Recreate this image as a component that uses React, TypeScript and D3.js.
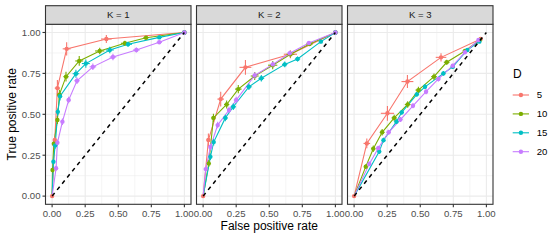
import React from "react";
import * as d3 from "d3";

// ---- data ----
const panels = ["K = 1", "K = 2", "K = 3"];
const seriesD = ["5", "10", "15", "20"];
const colors = ["#F8766D", "#7CAE00", "#00BFC4", "#C77CFF"];
const ticks = [0, 0.25, 0.5, 0.75, 1];
const tickLabels = ["0.00", "0.25", "0.50", "0.75", "1.00"];
const lineAnchor: [number, number] = [0, 0];
const diagonal: [number, number][] = [[0, 0], [1, 1]];

// each point: [fpr, tpr, fprErr, tprErr]
const k1d5 = [[0, 0, 0, 0], [0.02, 0.343, 0.01, 0.02], [0.04, 0.66, 0.02, 0.05], [0.11, 0.9, 0.03, 0.04], [0.41, 0.96, 0.04, 0.025], [1, 1, 0, 0]];
const k1d10 = [[0.003, 0.16, 0.005, 0.015], [0.013, 0.32, 0.008, 0.02], [0.04, 0.465, 0.01, 0.025], [0.055, 0.62, 0.015, 0.03], [0.105, 0.73, 0.02, 0.03], [0.205, 0.826, 0.03, 0.03], [0.36, 0.887, 0.035, 0.02], [0.55, 0.934, 0.03, 0.015], [0.71, 0.968, 0.02, 0.01], [1, 1, 0, 0]];
const k1d15 = [[0.01, 0.21, 0.005, 0.015], [0.023, 0.31, 0.008, 0.02], [0.043, 0.515, 0.01, 0.02], [0.06, 0.61, 0.012, 0.025], [0.18, 0.748, 0.025, 0.025], [0.255, 0.81, 0.03, 0.025], [0.436, 0.893, 0.03, 0.02], [0.574, 0.928, 0.03, 0.015], [0.81, 0.97, 0.02, 0.01], [1, 1, 0, 0]];
const k1d20 = [[0.03, 0.17, 0.008, 0.015], [0.04, 0.326, 0.01, 0.02], [0.078, 0.455, 0.012, 0.02], [0.125, 0.587, 0.015, 0.02], [0.188, 0.705, 0.02, 0.02], [0.308, 0.79, 0.025, 0.02], [0.46, 0.85, 0.025, 0.02], [0.637, 0.893, 0.025, 0.015], [0.81, 0.94, 0.02, 0.01], [1, 1, 0, 0]];

const k2d5 = [[0, 0, 0, 0], [0.04, 0.343, 0.015, 0.04], [0.133, 0.593, 0.025, 0.045], [0.32, 0.787, 0.045, 0.045], [0.66, 0.867, 0.05, 0.025], [1, 1, 0, 0]];
const k2d10 = [[0.043, 0.2, 0.01, 0.02], [0.078, 0.478, 0.015, 0.025], [0.178, 0.56, 0.02, 0.025], [0.266, 0.654, 0.025, 0.025], [0.39, 0.734, 0.03, 0.025], [0.526, 0.8, 0.035, 0.025], [0.66, 0.867, 0.03, 0.02], [0.805, 0.93, 0.025, 0.012], [1, 1, 0, 0]];
const k2d15 = [[0.055, 0.24, 0.01, 0.02], [0.08, 0.33, 0.012, 0.02], [0.168, 0.478, 0.018, 0.02], [0.228, 0.546, 0.02, 0.02], [0.346, 0.668, 0.022, 0.02], [0.44, 0.72, 0.022, 0.02], [0.617, 0.805, 0.02, 0.018], [0.714, 0.838, 0.02, 0.015], [0.89, 0.944, 0.015, 0.01], [1, 1, 0, 0]];
const k2d20 = [[0.02, 0.165, 0.008, 0.015], [0.055, 0.3, 0.01, 0.02], [0.11, 0.434, 0.012, 0.02], [0.196, 0.526, 0.015, 0.02], [0.25, 0.587, 0.018, 0.02], [0.39, 0.737, 0.02, 0.02], [0.527, 0.805, 0.022, 0.018], [0.655, 0.873, 0.02, 0.015], [0.8, 0.936, 0.018, 0.01], [1, 1, 0, 0]];

const k3d5 = [[0, 0, 0, 0], [0.096, 0.322, 0.025, 0.03], [0.252, 0.506, 0.05, 0.045], [0.403, 0.7, 0.045, 0.04], [0.657, 0.848, 0.04, 0.025], [0.957, 0.96, 0.015, 0.012]];
const k3d10 = [[0.088, 0.18, 0.01, 0.015], [0.145, 0.29, 0.015, 0.02], [0.212, 0.39, 0.018, 0.02], [0.303, 0.478, 0.02, 0.02], [0.405, 0.56, 0.022, 0.02], [0.486, 0.648, 0.022, 0.02], [0.604, 0.73, 0.022, 0.02], [0.7, 0.818, 0.022, 0.015], [0.838, 0.887, 0.018, 0.012], [0.95, 0.954, 0.01, 0.008]];
const k3d15 = [[0.19, 0.272, 0.01, 0.015], [0.222, 0.342, 0.012, 0.015], [0.32, 0.455, 0.015, 0.015], [0.36, 0.512, 0.015, 0.015], [0.474, 0.622, 0.015, 0.015], [0.536, 0.668, 0.015, 0.015], [0.675, 0.75, 0.015, 0.015], [0.746, 0.79, 0.015, 0.012], [0.856, 0.893, 0.012, 0.01], [0.947, 0.944, 0.008, 0.008]];
const k3d20 = [[0.115, 0.197, 0.01, 0.015], [0.182, 0.293, 0.012, 0.015], [0.261, 0.39, 0.015, 0.015], [0.35, 0.468, 0.015, 0.015], [0.445, 0.552, 0.015, 0.015], [0.544, 0.638, 0.015, 0.015], [0.637, 0.716, 0.015, 0.015], [0.746, 0.797, 0.015, 0.012], [0.838, 0.879, 0.012, 0.01], [0.94, 0.954, 0.008, 0.008]];

const panelData = [
  [k1d5, k1d10, k1d15, k1d20],
  [k2d5, k2d10, k2d15, k2d20],
  [k3d5, k3d10, k3d15, k3d20],
];

// ---- layout ----
const W = 560, H = 240;
const panelLeft0 = 45.5, panelW = 145.5, panelStep = 151;
const panelTop = 24.3, panelBottom = 204.3, stripTop = 5.7;
const font = "'Liberation Sans', Arial, Helvetica, sans-serif";

export default function App() {
  const y = d3.scaleLinear().domain([-0.05, 1.05]).range([panelBottom, panelTop]);
  const minor = [0.125, 0.375, 0.625, 0.875];
  return (
    <svg width={W} height={H} style={{ position: "absolute", left: 0, top: 0, background: "#fff" }} fontFamily={font}>
      <rect x={0} y={0} width={W} height={H} fill="#fff" />
      {panels.map((label, pi) => {
        const x0 = panelLeft0 + pi * panelStep;
        const x = d3.scaleLinear().domain([-0.05, 1.05]).range([x0, x0 + panelW]);
        const line = d3.line<number[]>().x((d) => x(d[0])).y((d) => y(d[1]));
        const series = panelData[pi];
        return (
          <g key={label}>
            <rect x={x0} y={panelTop} width={panelW} height={panelBottom - panelTop} fill="#fff" />
            {minor.map((t) => (
              <g key={"m" + t}>
                <line x1={x(t)} x2={x(t)} y1={panelTop} y2={panelBottom} stroke="#EBEBEB" strokeWidth={0.55} />
                <line x1={x0} x2={x0 + panelW} y1={y(t)} y2={y(t)} stroke="#EBEBEB" strokeWidth={0.55} />
              </g>
            ))}
            {ticks.map((t) => (
              <g key={"M" + t}>
                <line x1={x(t)} x2={x(t)} y1={panelTop} y2={panelBottom} stroke="#EBEBEB" strokeWidth={1.1} />
                <line x1={x0} x2={x0 + panelW} y1={y(t)} y2={y(t)} stroke="#EBEBEB" strokeWidth={1.1} />
              </g>
            ))}
            {series.map((pts, si) => (
              <path key={"l" + si} d={line(pts[0][0] === 0 && pts[0][1] === 0 ? pts : [lineAnchor, ...pts]) || ""} fill="none" stroke={colors[si]} strokeWidth={1.1} />
            ))}
            {series.map((pts, si) => (
              <g key={"e" + si} stroke={colors[si]} strokeWidth={1.1}>
                {pts.map((p, j) => (
                  <g key={j}>
                    <line x1={x(p[0])} x2={x(p[0])} y1={y(p[1] - p[3])} y2={y(p[1] + p[3])} />
                    <line x1={x(p[0] - p[2])} x2={x(p[0] + p[2])} y1={y(p[1])} y2={y(p[1])} />
                  </g>
                ))}
              </g>
            ))}
            {series.map((pts, si) => (
              <g key={"p" + si} fill={colors[si]}>
                {pts.map((p, j) => (
                  <circle key={j} cx={x(p[0])} cy={y(p[1])} r={2.2} />
                ))}
              </g>
            ))}
            <path d={line(diagonal) || ""} stroke="#000" strokeWidth={1.5} strokeDasharray="4,4" fill="none" />
            <rect x={x0} y={panelTop} width={panelW} height={panelBottom - panelTop} fill="none" stroke="#333333" strokeWidth={1.1} />
            <rect x={x0} y={stripTop} width={panelW} height={panelTop - stripTop} fill="#D9D9D9" stroke="#333333" strokeWidth={1.1} />
            <text x={x0 + panelW / 2} y={(stripTop + panelTop) / 2} dy="0.35em" textAnchor="middle" fontSize={9.6} fill="#1A1A1A">{label}</text>
            {ticks.map((t, i) => (
              <g key={"xt" + t}>
                <line x1={x(t)} x2={x(t)} y1={panelBottom} y2={panelBottom + 3} stroke="#333333" strokeWidth={1.1} />
                <text x={x(t)} y={217} textAnchor="middle" fontSize={9.6} fill="#4D4D4D">{tickLabels[i]}</text>
              </g>
            ))}
          </g>
        );
      })}
      {ticks.map((t, i) => (
        <g key={"yt" + t}>
          <line x1={panelLeft0 - 3} x2={panelLeft0} y1={y(t)} y2={y(t)} stroke="#333333" strokeWidth={1.1} />
          <text x={panelLeft0 - 5} y={y(t)} dy="0.35em" textAnchor="end" fontSize={9.6} fill="#4D4D4D">{tickLabels[i]}</text>
        </g>
      ))}
      <text x={(panelLeft0 + panelLeft0 + 2 * panelStep + panelW) / 2} y={229.5} textAnchor="middle" fontSize={12} fill="#000">False positive rate</text>
      <text transform={`translate(16,${(panelTop + panelBottom) / 2}) rotate(-90)`} textAnchor="middle" fontSize={12} fill="#000">True positive rate</text>
      <text x={513} y={77.5} fontSize={12} fill="#000">D</text>
      {seriesD.map((d, i) => {
        const ky = 95 + i * 18.9;
        return (
          <g key={"lg" + d}>
            <line x1={512.7} x2={529} y1={ky} y2={ky} stroke={colors[i]} strokeWidth={1.1} />
            <circle cx={520.9} cy={ky} r={2.2} fill={colors[i]} />
            <text x={536.7} y={ky} dy="0.35em" fontSize={9.6} fill="#000">{d}</text>
          </g>
        );
      })}
    </svg>
  );
}
